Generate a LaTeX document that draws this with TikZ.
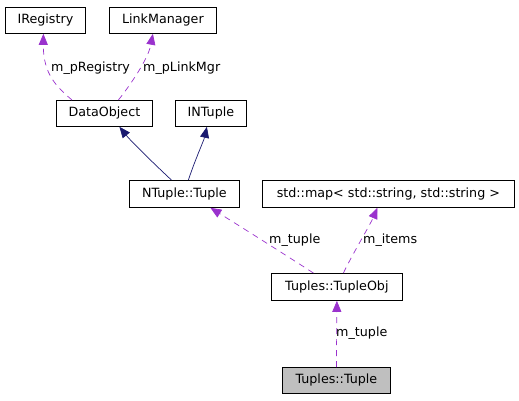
\documentclass[tikz,border=0pt]{standalone}
\usepackage{fontspec}
\setmainfont{DejaVu Sans}
\usetikzlibrary{arrows.meta,calc}
\definecolor{edgepurple}{HTML}{9A32CD}
\definecolor{edgenavy}{HTML}{191970}
\tikzset{
  cls/.style={draw=black, line width=0.8pt, fill=white, inner sep=0pt, font=\fontsize{12.7}{14}\selectfont, anchor=north west},
  uses/.style={draw=edgepurple, line width=0.7pt, dash pattern=on 6pt off 5pt, -{Triangle[length=11pt,width=9pt,fill=edgepurple]}},
  inherit/.style={draw=edgenavy, line width=0.7pt, -{Triangle[length=11pt,width=9pt,fill=edgenavy]}},
  lbl/.style={font=\fontsize{12.7}{14}\selectfont, inner sep=0pt}
}
\begin{document}
\begin{tikzpicture}[x=1pt,y=-1pt]
\useasboundingbox (0,0) rectangle (519,400);
\node[cls, minimum width=80pt, minimum height=26pt] (ireg) at (5,7) {IRegistry};
\node[cls, minimum width=107pt, minimum height=26pt] (lmgr) at (109,7) {LinkManager};
\node[cls, minimum width=96pt, minimum height=26pt] (dobj) at (56,100) {DataObject};
\node[cls, minimum width=71pt, minimum height=26pt] (intup) at (175,100) {INTuple};
\node[cls, minimum width=110pt, minimum height=27pt] (ntup) at (129,180) {NTuple::Tuple};
\node[cls, minimum width=252pt, minimum height=27pt] (smap) at (262,180) {std::map{<} std::string, std::string {>}};
\node[cls, minimum width=131pt, minimum height=27pt] (tobj) at (271,273) {Tuples::TupleObj};
\node[cls, minimum width=108pt, minimum height=26pt, fill=black!25] (tup) at (282,367) {Tuples::Tuple};

% uses edges
\draw[uses] ($(dobj.north west)+(16,0)$) .. controls (58,88) and (43,75) .. ($(ireg.south)+(-2,0)$);
\node[lbl, anchor=west] (l1) at (51,68) {m\_pRegistry};
\draw[uses] ($(dobj.north)+(14,0)$) .. controls (128,88) and (148,60) .. ($(lmgr.south)+(-10,0)$);
\node[lbl, anchor=west] (l2) at (143,68) {m\_pLinkMgr};

\draw[uses] ($(tobj.north)+(-23.5,0)$) .. controls (270,245) and (230,220) .. ($(ntup.south)+(26,0)$);
\node[lbl, anchor=west] (l3) at (269,240) {m\_tuple};
\draw[uses] ($(tobj.north)+(6.5,0)$) .. controls (352,255) and (370,225) .. ($(smap.south)+(-11,0)$);
\node[lbl, anchor=west] (l4) at (363,240) {m\_items};
\draw[uses] (tup.north) -- (tobj.south);
\node[lbl, anchor=west] (l5) at (336,333) {m\_tuple};

% inheritance
\draw[inherit] ($(ntup.north)+(-13,0)$) .. controls (150,160) and (130,140) .. ($(dobj.south)+(15,0)$);
\draw[inherit] ($(ntup.north)+(4,0)$) .. controls (195,160) and (204,140) .. ($(intup.south)+(-4,0)$);
\end{tikzpicture}
\end{document}
